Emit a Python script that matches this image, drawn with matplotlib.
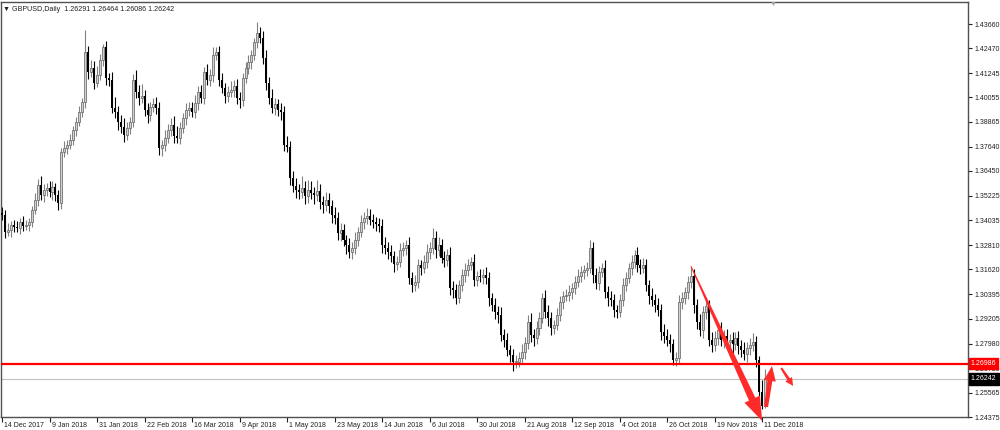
import matplotlib
matplotlib.use('Agg')
import matplotlib.pyplot as plt
import numpy as np
from matplotlib.patches import Polygon
from matplotlib.transforms import IdentityTransform, ScaledTranslation

plt.rcParams['font.family'] = ['Liberation Sans', 'DejaVu Sans']

# GBPUSD daily, 14 Dec 2017 .. 13 Dec 2018
first_open = 1.3440
closes = [
    1.3430, 1.3345, 1.3355, 1.3380, 1.3370, 1.3365, 1.3395, 1.3375, 1.3380, 1.3395,
    1.3454, 1.3503, 1.3577, 1.3528, 1.3552, 1.3562, 1.3542, 1.3567, 1.3528, 1.3488,
    1.3738, 1.3757, 1.3772, 1.3797, 1.3846, 1.3885, 1.3934, 1.3983, 1.4229, 1.4130,
    1.4150, 1.4077, 1.4116, 1.4189, 1.4253, 1.4101, 1.4091, 1.3954, 1.3934, 1.3885,
    1.3861, 1.3821, 1.3856, 1.3885, 1.4091, 1.4032, 1.4003, 1.4013, 1.3944, 1.3920,
    1.3959, 1.3974, 1.3954, 1.3757, 1.3772, 1.3807, 1.3846, 1.3870, 1.3816, 1.3807,
    1.3856, 1.3905, 1.3944, 1.3954, 1.3934, 1.3978, 1.4032, 1.4003, 1.4130, 1.4091,
    1.4116, 1.4214, 1.4229, 1.4091, 1.4052, 1.4013, 1.4032, 1.4042, 1.4062, 1.4003,
    1.3993, 1.4101, 1.4150, 1.4179, 1.4214, 1.4278, 1.4322, 1.4297, 1.4199, 1.4076,
    1.4003, 1.3954, 1.3974, 1.3944, 1.3934, 1.3772, 1.3762, 1.3610, 1.3571, 1.3551,
    1.3542, 1.3561, 1.3522, 1.3551, 1.3537, 1.3527, 1.3547, 1.3493, 1.3478, 1.3503,
    1.3473, 1.3429, 1.3414, 1.3341, 1.3355, 1.3306, 1.3282, 1.3247, 1.3267, 1.3306,
    1.3345, 1.3394, 1.3414, 1.3424, 1.3404, 1.3394, 1.3385, 1.3375, 1.3282, 1.3267,
    1.3247, 1.3228, 1.3188, 1.3198, 1.3257, 1.3267, 1.3282, 1.3120, 1.3085, 1.3100,
    1.3183, 1.3169, 1.3198, 1.3247, 1.3267, 1.3316, 1.3257, 1.3282, 1.3218, 1.3208,
    1.3233, 1.3071, 1.3061, 1.3022, 1.3085, 1.3134, 1.3159, 1.3183, 1.3198, 1.3110,
    1.3130, 1.3125, 1.3134, 1.3120, 1.3022, 1.2987, 1.2953, 1.2938, 1.2840, 1.2815,
    1.2766, 1.2742, 1.2708, 1.2708, 1.2727, 1.2757, 1.2801, 1.2904, 1.2840, 1.2825,
    1.2874, 1.2923, 1.3022, 1.2953, 1.2923, 1.2874, 1.2889, 1.2938, 1.3002, 1.3031,
    1.3036, 1.3051, 1.3071, 1.3100, 1.3130, 1.3149, 1.3159, 1.3169, 1.3267, 1.3134,
    1.3095, 1.3149, 1.3169, 1.3051, 1.3022, 1.3012, 1.2963, 1.2953, 1.3012, 1.3085,
    1.3120, 1.3169, 1.3198, 1.3233, 1.3183, 1.3169, 1.3183, 1.3085, 1.3031, 1.3012,
    1.2987, 1.2963, 1.2855, 1.2835, 1.2815, 1.2796, 1.2717, 1.2727, 1.3002, 1.3022,
    1.3051, 1.3100, 1.3130, 1.2987, 1.2904, 1.2864, 1.2953, 1.2982, 1.2815, 1.2791,
    1.2825, 1.2864, 1.2815, 1.2835, 1.2806, 1.2815, 1.2796, 1.2825, 1.2786, 1.2766,
    1.2747, 1.2776, 1.2791, 1.2806, 1.2717, 1.2560, 1.2490, 1.26291, 1.26242,
]
# wick lengths above / below the body, in pips
upper_wick = [
    30, 25, 35, 20, 25, 30, 20, 30, 25, 20,
    20, 35, 30, 45, 30, 25, 35, 30, 20, 25,
    20, 35, 25, 30, 20, 25, 30, 20, 107, 30,
    40, 35, 45, 30, 15, 30, 25, 40, 55, 30,
    35, 45, 30, 25, 30, 50, 35, 60, 30, 35,
    25, 30, 35, 30, 25, 40, 30, 35, 45, 50,
    30, 25, 35, 30, 30, 40, 30, 35, 25, 40,
    30, 40, 25, 30, 35, 25, 30, 45, 30, 35,
    30, 25, 30, 35, 25, 20, 55, 30, 35, 40,
    30, 45, 30, 25, 35, 30, 45, 30, 35, 40,
    30, 60, 35, 50, 45, 30, 55, 35, 30, 40,
    35, 30, 40, 30, 35, 30, 25, 35, 30, 40,
    25, 35, 30, 40, 35, 30, 25, 30, 35, 40,
    30, 35, 25, 30, 35, 30, 25, 40, 30, 35,
    30, 25, 35, 40, 30, 49, 35, 40, 30, 35,
    30, 40, 35, 30, 25, 30, 35, 30, 25, 40,
    25, 35, 30, 40, 30, 25, 35, 30, 40, 30,
    35, 25, 30, 35, 30, 40, 30, 35, 45, 30,
    35, 30, 25, 40, 35, 30, 25, 35, 30, 25,
    30, 35, 25, 30, 35, 30, 25, 29, 40, 30,
    35, 30, 25, 40, 30, 35, 30, 25, 30, 35,
    30, 25, 35, 24, 40, 30, 35, 30, 25, 40,
    30, 35, 30, 40, 35, 30, 25, 30, 35, 30,
    25, 30, 44, 35, 30, 40, 30, 35, 30, 40,
    35, 30, 40, 30, 35, 30, 40, 30, 35, 30,
    40, 30, 35, 45, 30, 19, 57, 43, 17,
]
lower_wick = [
    25, 30, 20, 35, 25, 20, 30, 25, 20, 30,
    25, 20, 30, 25, 35, 30, 25, 40, 30, 35,
    30, 25, 30, 20, 25, 30, 20, 25, 30, 35,
    25, 30, 20, 25, 30, 35, 30, 25, 30, 40,
    30, 35, 25, 30, 25, 30, 35, 25, 30, 40,
    30, 25, 30, 35, 40, 30, 25, 30, 35, 25,
    30, 25, 35, 30, 25, 30, 35, 25, 30, 25,
    30, 35, 25, 30, 25, 35, 30, 25, 35, 30,
    40, 30, 25, 30, 35, 25, 30, 25, 30, 35,
    30, 25, 35, 30, 40, 30, 25, 35, 30, 40,
    35, 30, 40, 35, 30, 45, 30, 35, 40, 30,
    35, 40, 30, 35, 40, 30, 45, 30, 35, 30,
    30, 25, 35, 30, 25, 30, 35, 30, 40, 30,
    35, 30, 40, 30, 25, 30, 35, 30, 35, 30,
    30, 35, 25, 30, 35, 30, 40, 30, 25, 35,
    30, 35, 40, 30, 25, 30, 35, 30, 25, 30,
    30, 25, 35, 30, 40, 30, 35, 40, 30, 35,
    30, 35, 46, 30, 25, 30, 35, 30, 35, 40,
    30, 35, 25, 30, 40, 35, 30, 25, 30, 35,
    25, 30, 35, 30, 25, 30, 35, 30, 25, 40,
    30, 35, 25, 30, 40, 30, 35, 30, 25, 30,
    30, 25, 35, 30, 35, 30, 25, 30, 40, 30,
    35, 30, 40, 35, 30, 40, 25, 30, 30, 35,
    30, 35, 30, 40, 35, 30, 40, 35, 30, 35,
    30, 35, 30, 40, 35, 30, 45, 30, 40, 35,
    30, 40, 35, 30, 35, 53, 13, 10, 16,
]

price_ticks = [1.43660, 1.42470, 1.41245, 1.40055, 1.38865, 1.37640, 1.36450,
               1.35225, 1.34035, 1.32810, 1.31620, 1.30395, 1.29205, 1.27980,
               1.26750, 1.25565, 1.24375]
date_labels = ['14 Dec 2017', '9 Jan 2018', '31 Jan 2018', '22 Feb 2018',
               '16 Mar 2018', '9 Apr 2018', '1 May 2018', '23 May 2018',
               '14 Jun 2018', '6 Jul 2018', '30 Jul 2018', '21 Aug 2018',
               '12 Sep 2018', '4 Oct 2018', '26 Oct 2018', '19 Nov 2018',
               '11 Dec 2018']
bars_per_label = 16
level_price = 1.26986
bid_price = 1.26242
title = 'GBPUSD,Daily  1.26291 1.26464 1.26086 1.26242'

assert len(closes) == len(upper_wick) == len(lower_wick)

# %%
c = np.array(closes)
o = np.array([first_open] + closes[:-1])
hi = np.maximum(o, c) + np.array(upper_wick) / 10000
lo = np.minimum(o, c) - np.array(lower_wick) / 10000
x = np.arange(len(c))
bull = c >= o

fig = plt.figure(figsize=(10, 4.3), dpi=100)
ax = fig.add_axes([0.001, 13 / 430, 0.967, 415 / 430])
ax.set_xlim(-0.34, 325.3)
ax.set_ylim(1.24375, 1.44740)

ax.vlines(x[bull], lo[bull], hi[bull], color='#808080', lw=0.8, zorder=2)
ax.vlines(x[~bull], lo[~bull], hi[~bull], color='black', lw=0.8, zorder=2)
body = np.maximum(np.abs(c - o), 0.00025)
ax.bar(x[bull], body[bull], bottom=o[bull], width=0.68,
       facecolor='#d0d0d0', edgecolor='#606060', lw=0.5, zorder=3)
ax.bar(x[~bull], body[~bull], bottom=c[~bull], width=0.68,
       color='black', lw=0, zorder=3)

ax.axhline(level_price, color='#ff0000', lw=1.6, zorder=4)
ax.axhline(bid_price, color='#c0c0c0', lw=0.8, zorder=1)

# axes styling, MT4 look
fs = 5.0
for s in ax.spines.values():
    s.set_color('#505050')
    s.set_linewidth(1)
ax.yaxis.tick_right()
ax.set_yticks(price_ticks)
ax.set_yticklabels(['%.5f' % p for p in price_ticks])
ax.tick_params(axis='y', direction='out', length=3, pad=2, labelsize=fs,
               colors='#202020')
ax.set_xticks(np.arange(len(date_labels)) * bars_per_label)
ax.set_xticklabels(date_labels)
ax.tick_params(axis='x', direction='out', length=3.5, pad=0.3, labelsize=fs,
               colors='#202020')
shift = ScaledTranslation(1.5 / 72, 0, fig.dpi_scale_trans)
for lbl in ax.get_xticklabels():
    lbl.set_horizontalalignment('left')
    lbl.set_transform(lbl.get_transform() + shift)

ytr = ax.get_yaxis_transform()
ax.text(1.003, level_price, '%.5f' % level_price, transform=ytr, ha='left',
        va='center', fontsize=fs, color='white', zorder=6, clip_on=False,
        bbox=dict(boxstyle='square,pad=0.3', fc='#ff0000', ec='#ff0000'))
ax.text(1.003, bid_price, '%.5f' % bid_price, transform=ytr, ha='left',
        va='center', fontsize=fs, color='white', zorder=6, clip_on=False,
        bbox=dict(boxstyle='square,pad=0.3', fc='black', ec='black'))

fig.text(0.003, 0.985, '\u25bc ' + title, fontsize=5.1, va='top', ha='left',
         color='#202020')
fig.text(0.773, 0.999, '\u25bc', fontsize=5, va='top', ha='center',
         color='#a0a0a0')


# hand drawn red arrows
def arrow(start, end, w0, w1, head_w, head_len, color='#ff2a2a'):
    p0 = ax.transData.transform(start)
    p1 = ax.transData.transform(end)
    d = p1 - p0
    u = d / np.hypot(*d)
    n = np.array([-u[1], u[0]])
    base = p1 - u * head_len
    pts = [p0 + n * w0 / 2, base + n * w1 / 2, base + n * head_w / 2, p1,
           base - n * head_w / 2, base - n * w1 / 2, p0 - n * w0 / 2]
    ax.add_patch(Polygon(pts, closed=True, transform=IdentityTransform(),
                         fc=color, ec='none', clip_on=False, zorder=7))


arrow((232, 1.3178), (256, 1.2418), 1, 7, 17, 24)
arrow((257.3, 1.2487), (259.3, 1.2688), 4, 5, 12, 15)
arrow((262.4, 1.2678), (266.4, 1.2590), 2, 3, 8, 8)

fig.savefig('out.png', dpi=100)
